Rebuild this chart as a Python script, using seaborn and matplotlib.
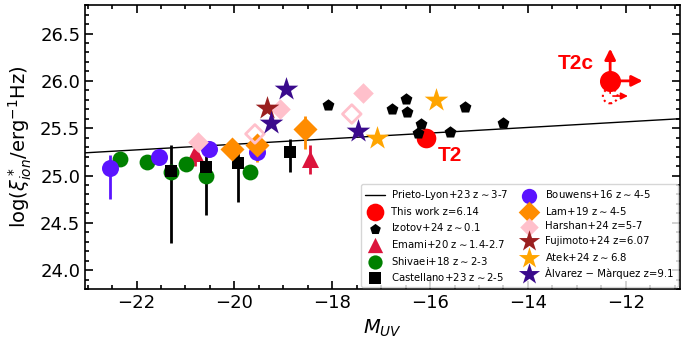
import matplotlib
matplotlib.use("Agg")
import matplotlib.pyplot as plt
import seaborn as sns
import pandas as pd
import numpy as np

# ---- data ----
prieto_muv = [-23.05, -10.9]
prieto_xi = [25.24, 25.60]

this_muv = [-16.08]
this_xi = [25.40]

t2c_muv = [-12.32]
t2c_xi = [26.00]
t2c_dot_xi = [25.84]

izotov_muv = [-18.08, -16.78, -16.5, -16.48, -16.18, -16.24, -15.6, -15.28, -14.52]
izotov_xi = [25.75, 25.70, 25.81, 25.67, 25.54, 25.45, 25.46, 25.72, 25.56]

emami_muv = [-20.8, -18.46]
emami_xi = [25.24, 25.17]
emami_err = [0.14, 0.15]

shivaei_muv = [-22.34, -21.78, -21.3, -20.98, -20.58, -19.68]
shivaei_xi = [25.18, 25.14, 25.04, 25.12, 25.00, 25.04]

cast_muv = [-21.3, -20.58, -19.92, -18.86]
cast_xi = [25.05, 25.09, 25.13, 25.25]
cast_lo = [0.76, 0.51, 0.41, 0.21]
cast_hi = [0.27, 0.12, 0.20, 0.14]

bouw_muv = [-22.54, -21.54, -20.52, -19.54]
bouw_xi = [25.08, 25.20, 25.28, 25.25]
bouw_lo = [0.33, 0, 0, 0]
bouw_hi = [0.14, 0, 0, 0]

lam_muv = [-20.04, -19.54, -18.56]
lam_xi = [25.28, 25.32, 25.49]
lam_lo = [0, 0.18, 0.21]
lam_hi = [0, 0.10, 0.14]

harshan_muv = [-20.74, -19.06, -17.38]
harshan_xi = [25.35, 25.70, 25.87]
harshan_open_muv = [-19.58, -17.6]
harshan_open_xi = [25.44, 25.65]

fuji_muv = [-19.34]
fuji_xi = [25.71]

atek_muv = [-17.08, -15.88]
atek_xi = [25.40, 25.80]

alv_muv = [-19.26, -18.94, -17.48]
alv_xi = [25.55, 25.91, 25.47]

sns.set_style("ticks")
plt.rcParams.update({"axes.edgecolor": "black", "xtick.color": "black",
                     "ytick.color": "black", "text.color": "black",
                     "axes.labelcolor": "black"})
fig = plt.figure(figsize=(6.81, 3.43), dpi=100)
ax = fig.add_axes([0.125, 0.157, 0.873, 0.828])

# Prieto-Lyon relation
sns.lineplot(x=prieto_muv, y=prieto_xi, color="black", lw=1, ax=ax,
             label=r"Prieto-Lyon+23 z$\sim$3-7", zorder=1)


def errs(ax, x, y, lo, hi, color, lw=2):
    ax.errorbar(x, y, yerr=[lo, hi], fmt="none", ecolor=color, elinewidth=lw,
                capsize=0, zorder=2)


# error bars first
errs(ax, bouw_muv, bouw_xi, bouw_lo, bouw_hi, "#5b14ff")
errs(ax, cast_muv, cast_xi, cast_lo, cast_hi, "black")
errs(ax, lam_muv, lam_xi, lam_lo, lam_hi, "darkorange")
errs(ax, emami_muv, emami_xi, emami_err, emami_err, "crimson")

kw = dict(ax=ax, linewidth=0, zorder=3)
sns.scatterplot(x=this_muv, y=this_xi, marker="o", s=200, color="red",
                label="This work z=6.14", **kw)
sns.scatterplot(x=izotov_muv, y=izotov_xi, marker="p", s=80, color="black",
                label=r"Izotov+24 z$\sim$0.1", **kw)
sns.scatterplot(x=emami_muv, y=emami_xi, marker="^", s=150, color="crimson",
                label=r"Emami+20 z$\sim$1.4-2.7", **kw)
sns.scatterplot(x=shivaei_muv, y=shivaei_xi, marker="o", s=130, color="green",
                label=r"Shivaei+18 z$\sim$2-3", **kw)
sns.scatterplot(x=cast_muv, y=cast_xi, marker="s", s=80, color="black",
                label=r"Castellano+23 z$\sim$2-5", **kw)
sns.scatterplot(x=bouw_muv, y=bouw_xi, marker="o", s=150, color="#5b14ff",
                label=r"Bouwens+16 z$\sim$4-5", **kw)
sns.scatterplot(x=lam_muv, y=lam_xi, marker="D", s=150, color="darkorange",
                label=r"Lam+19 z$\sim$4-5", **kw)
sns.scatterplot(x=harshan_muv, y=harshan_xi, marker="D", s=110, color="pink",
                label="Harshan+24 z=5-7", **kw)
ax.scatter(harshan_open_muv, harshan_open_xi, marker="D", s=90,
           facecolors="none", edgecolors="pink", linewidths=2, zorder=3)
sns.scatterplot(x=fuji_muv, y=fuji_xi, marker="*", s=320, color="#9a1f1f",
                label="Fujimoto+24 z=6.07", **kw)
sns.scatterplot(x=atek_muv, y=atek_xi, marker="*", s=320, color="orange",
                label=r"Atek+24 z$\sim$6.8", **kw)
sns.scatterplot(x=alv_muv, y=alv_xi, marker="*", s=320, color="#3a0a8c",
                label="Àlvarez − Màrquez z=9.1", **kw)

# T2c limits
ax.scatter(t2c_muv, t2c_xi, marker="o", s=200, color="red", zorder=4)
ax.scatter(t2c_muv, t2c_dot_xi, marker="o", s=110, facecolors="none",
           edgecolors="red", linestyles=":", linewidths=1.5, zorder=4)
for x, y in zip(t2c_muv, t2c_xi):
    ax.annotate("", xy=(x, y + 0.37), xytext=(x, y),
                arrowprops=dict(arrowstyle="-|>", color="red", lw=2,
                                mutation_scale=16), zorder=5)
    ax.annotate("", xy=(x + 0.72, y), xytext=(x, y),
                arrowprops=dict(arrowstyle="-|>", color="red", lw=2,
                                mutation_scale=16), zorder=5)
for x, y in zip(t2c_muv, t2c_dot_xi):
    ax.annotate("", xy=(x, y + 0.17), xytext=(x, y),
                arrowprops=dict(arrowstyle="-|>", color="red", lw=1.2,
                                mutation_scale=10), zorder=5)
    ax.annotate("", xy=(x + 0.42, y), xytext=(x, y),
                arrowprops=dict(arrowstyle="-|>", color="red", lw=1.2,
                                mutation_scale=10), zorder=5)

ax.text(-15.6, 25.21, "T2", color="red", fontsize=15, fontweight="bold",
        family="Liberation Sans", ha="center", va="center")
ax.text(-13.02, 26.18, "T2c", color="red", fontsize=15, fontweight="bold",
        family="Liberation Sans", ha="center", va="center")

ax.set_xlim(-23.05, -10.9)
ax.set_ylim(23.8, 26.8)
ax.set_xticks([-22, -20, -18, -16, -14, -12])
ax.set_yticks([24.0, 24.5, 25.0, 25.5, 26.0, 26.5])
ax.minorticks_on()
ax.tick_params(which="both", direction="in", top=True, right=True,
               labelsize=13, width=1.2)
ax.tick_params(which="major", length=6)
ax.tick_params(which="minor", length=3)
for sp in ax.spines.values():
    sp.set_linewidth(1.2)
ax.set_xlabel(r"$M_{UV}$", fontsize=14)
ax.set_ylabel(r"log($\xi^*_{ion}$/erg$^{-1}$Hz)", fontsize=14)

ax.legend(ncol=2, loc="lower right", fontsize=7.3, markerscale=0.9,
          columnspacing=1.0, handletextpad=0.6, labelspacing=0.45,
          borderaxespad=0.2, frameon=True)

fig.savefig("out.png", dpi=100)
